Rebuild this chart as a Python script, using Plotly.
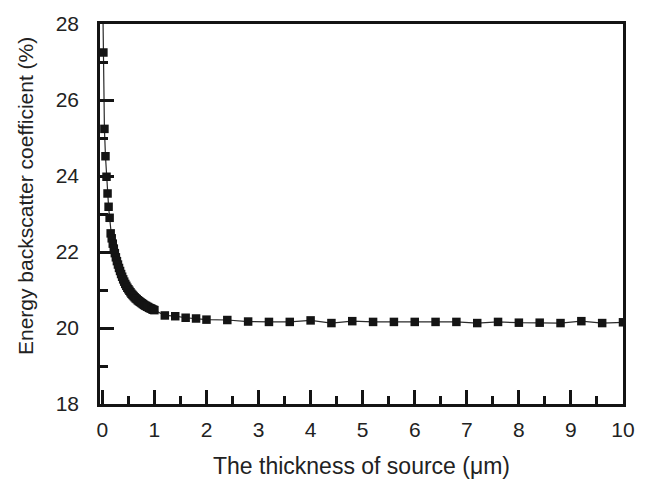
import plotly.graph_objects as go

# Source thickness (um) and energy backscatter coefficient (%)
thickness = [
    0.00, 0.02, 0.04, 0.06, 0.08, 0.10, 0.12, 0.14, 0.16, 0.18,
    0.20, 0.22, 0.24, 0.26, 0.28, 0.30, 0.32, 0.34, 0.36, 0.38,
    0.40, 0.42, 0.44, 0.46, 0.48, 0.50, 0.52, 0.54, 0.56, 0.58,
    0.60, 0.62, 0.64, 0.66, 0.68, 0.70, 0.72, 0.74, 0.76, 0.78,
    0.80, 0.82, 0.84, 0.86, 0.88, 0.90, 0.92, 0.94, 0.96, 0.98,
    1.00, 1.2, 1.4, 1.6, 1.8, 2.0, 2.4, 2.8, 3.2, 3.6,
    4.0, 4.4, 4.8, 5.2, 5.6, 6.0, 6.4, 6.8, 7.2, 7.6,
    8.0, 8.4, 8.8, 9.2, 9.6, 10.0,
]
backscatter = [
    29.50, 27.25, 25.24, 24.52, 23.98, 23.54, 23.19, 22.90, 22.49, 22.36,
    22.22, 22.09, 21.97, 21.86, 21.76, 21.67, 21.58, 21.50, 21.42, 21.35,
    21.28, 21.22, 21.16, 21.11, 21.06, 21.02, 20.98, 20.94, 20.90, 20.87,
    20.84, 20.81, 20.78, 20.76, 20.73, 20.71, 20.69, 20.67, 20.65, 20.63,
    20.61, 20.59, 20.58, 20.56, 20.55, 20.53, 20.52, 20.51, 20.49, 20.48,
    20.47, 20.33, 20.31, 20.27, 20.25, 20.22, 20.21, 20.17, 20.16, 20.16,
    20.20, 20.13, 20.18, 20.16, 20.16, 20.16, 20.16, 20.16, 20.13, 20.16,
    20.14, 20.14, 20.13, 20.18, 20.13, 20.15,
]

x_ticks = list(range(0, 11))
y_ticks = [18, 20, 22, 24, 26, 28]

FONT = "Liberation Sans, Arial, sans-serif"
INK = "#141414"
TEXT = "#222222"

fig = go.Figure()
fig.add_trace(go.Scatter(
    x=thickness,
    y=backscatter,
    mode="lines+markers",
    line=dict(color="#2a2a2a", width=1.2),
    marker=dict(symbol="square", size=8.5, color=INK),
    cliponaxis=True,
    showlegend=False,
))

axis_common = dict(
    showline=True,
    linecolor=INK,
    linewidth=2.5,
    mirror=True,
    showgrid=False,
    zeroline=False,
    ticks="inside",
    tickcolor=INK,
    tickwidth=2.5,
    ticklen=14,
    tickfont=dict(family=FONT, size=21, color=TEXT),
)

fig.update_xaxes(
    range=[-0.045, 10],
    tickvals=x_ticks,
    ticktext=[str(v) for v in x_ticks],
    minor=dict(ticks="inside", dtick=0.5, tick0=0, ticklen=8,
               tickwidth=2.5, tickcolor=INK),
    ticklabelstandoff=5,
    **axis_common,
)
fig.update_yaxes(
    range=[18, 28],
    tickvals=y_ticks,
    ticktext=[str(v) for v in y_ticks],
    minor=dict(ticks="inside", dtick=1, tick0=18, ticklen=8,
               tickwidth=2.5, tickcolor=INK),
    ticklabelstandoff=14,
    **axis_common,
)

fig.add_annotation(
    text="The thickness of source (\u03bcm)",
    xref="paper", yref="paper", x=0.5, y=-0.163,
    xanchor="center", yanchor="middle", showarrow=False,
    font=dict(family=FONT, size=23, color=TEXT),
)
fig.add_annotation(
    text="Energy backscatter coefficient (%)",
    xref="paper", yref="paper", x=-0.141, y=0.548,
    xanchor="center", yanchor="middle", textangle=-90, showarrow=False,
    font=dict(family=FONT, size=21, color=TEXT),
)

fig.update_layout(
    width=650,
    height=479,
    margin=dict(l=100, r=27, t=21, b=75),
    paper_bgcolor="white",
    plot_bgcolor="white",
)

fig.write_html("out.html")
